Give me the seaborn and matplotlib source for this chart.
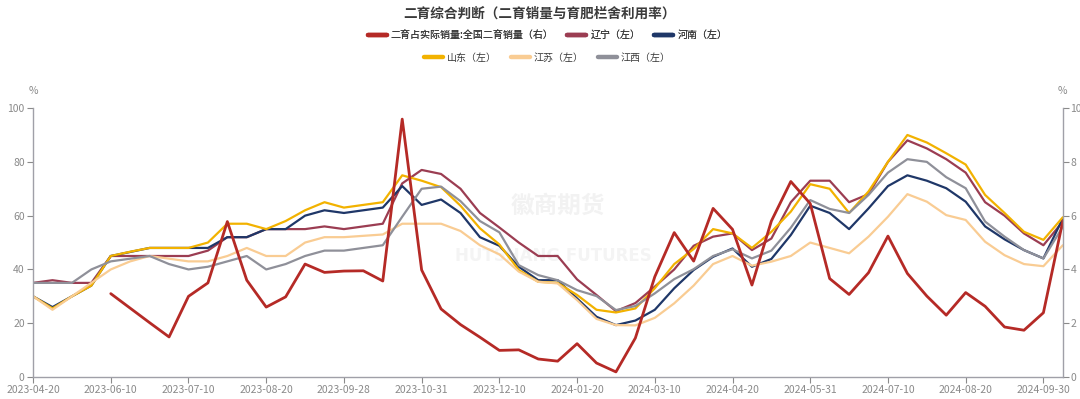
import numpy as np
import pandas as pd
import seaborn as sns
import matplotlib.pyplot as plt
from matplotlib.lines import Line2D

# dates (category axis, a label every 4th point)
dates = ['2023-04-20', '2023-04-30', '2023-05-10', '2023-05-31', '2023-06-10', '2023-06-15',
         '2023-06-20', '2023-06-30', '2023-07-10', '2023-07-20', '2023-07-31', '2023-08-10',
         '2023-08-20', '2023-08-31', '2023-09-10', '2023-09-20', '2023-09-28', '2023-10-10',
         '2023-10-15', '2023-10-20', '2023-10-31', '2023-11-10', '2023-11-20', '2023-11-30',
         '2023-12-10', '2023-12-20', '2023-12-31', '2024-01-10', '2024-01-20', '2024-01-31',
         '2024-02-10', '2024-02-29', '2024-03-10', '2024-03-20', '2024-03-31', '2024-04-10',
         '2024-04-20', '2024-04-30', '2024-05-10', '2024-05-20', '2024-05-31', '2024-06-10',
         '2024-06-20', '2024-06-30', '2024-07-10', '2024-07-20', '2024-07-31', '2024-08-10',
         '2024-08-20', '2024-08-31', '2024-09-10', '2024-09-20', '2024-09-30', '2024-10-10']

# right axis: share of secondary fattening in actual sales (%)
share = [np.nan, np.nan, np.nan, np.nan, 3.1, 2.56, 2.02, 1.49, 3.0, 3.5,
         5.78, 3.6, 2.6, 2.98, 4.2, 3.89, 3.94, 3.95, 3.57, 9.59,
         3.98, 2.53, 1.95, 1.48, 0.99, 1.01, 0.67, 0.59, 1.24, 0.52,
         0.19, 1.45, 3.73, 5.37, 4.31, 6.27, 5.49, 3.42, 5.8, 7.27,
         6.45, 3.66, 3.07, 3.88, 5.24, 3.85, 3.01, 2.3, 3.14, 2.63,
         1.86, 1.74, 2.39, 5.8]

# left axis: pen utilisation by province (%)
liaoning = [35, 36, 35, 35, 45, 45, 45, 45, 45, 47,
            52, 52, 55, 55, 55, 56, 55, 56, 57, 72,
            77, 75.5, 70, 61, 55.6, 50, 45, 45, 36.3, 30.5,
            24.5, 27.5, 33.6, 40, 48.8, 52.2, 53.4, 47.2, 51.5, 65,
            73, 73, 65, 68, 80, 88, 85, 81, 76, 65,
            60, 53.4, 49, 57.8]
henan = [30, 26, 30, 34, 45, 46.5, 48, 48, 48, 48,
         52, 52, 55, 55, 60, 62, 61, 62, 63, 71,
         64, 66, 61, 52, 48.8, 41, 36, 36, 29.2, 22.4,
         19.3, 21, 25, 33, 39.8, 44.7, 47.8, 41, 43.9, 52.8,
         63.7, 61, 55, 62.7, 71, 75, 73, 70.2, 65.2, 56,
         51.2, 47.2, 44.1, 59]
shandong = [30, 25.5, 30, 34, 45, 46.6, 48, 48, 48, 50,
            57, 57, 55, 58, 62, 65, 63, 64, 65, 75,
            73, 70.6, 63.7, 55.3, 49.3, 39.8, 35.4, 35, 30.5, 25,
            24, 25.5, 33, 42, 47.6, 55, 53.4, 48, 54, 61.5,
            71.7, 70, 61, 69, 80, 90, 87.2, 83.2, 79, 67.7,
            61, 54, 51, 59.4]
jiangsu = [30, 25, 30, 35, 40, 43, 45, 44, 43, 43,
           45, 48, 45, 45, 50, 52, 52, 52.5, 53, 57,
           57, 57, 54.3, 49, 45.6, 39.2, 35.4, 34.8, 28.6, 21.6,
           19.3, 19.2, 22, 27.4, 34, 42, 45, 41.4, 42.9, 45,
           50, 48, 46, 52.2, 59.6, 68, 65.2, 60.2, 58.4, 50.3,
           45.3, 42, 41.2, 49]
jiangxi = [35, 35, 35, 40, 43, 44, 45, 42, 40, 41,
           43, 45, 40, 42, 45, 47, 47, 48, 49, 59.6,
           70, 70.8, 65.4, 58, 53.8, 41.6, 37.9, 36, 32.3, 30.1,
           24.9, 26.4, 31.1, 36.4, 40.1, 45, 47.5, 44.1, 47, 55.5,
           65.8, 62.5, 61, 67.7, 76, 81, 80, 74.3, 70.2, 57.8,
           52.2, 47.2, 44.1, 55.9]

names = ['二育占实际销量:全国二育销量（右）', '辽宁（左）', '河南（左）',
         '山东（左）', '江苏（左）', '江西（左）']
colors = {names[0]: '#B52A26', names[1]: '#9B3D52', names[2]: '#1F3768',
          names[3]: '#F2B200', names[4]: '#F9CC93', names[5]: '#8F9099'}

idx = np.arange(len(dates))
left = pd.DataFrame({'idx': idx, names[1]: liaoning, names[2]: henan,
                     names[3]: shandong, names[4]: jiangsu, names[5]: jiangxi})
left_long = left.melt(id_vars='idx', var_name='series', value_name='value')
right = pd.DataFrame({'idx': idx, 'value': share})

sns.set_style('white')
plt.rcParams['font.family'] = ['Noto Sans CJK SC', 'DejaVu Sans']

fig = plt.figure(figsize=(10.8, 3.99), dpi=100)
ax = fig.add_axes([0.0306, 0.0551, 0.9535, 0.674])

# watermark behind the lines
ax.text(0.51, 0.635, '徽商期货', transform=ax.transAxes, ha='center', va='center',
        fontsize=17, color='#F2F2F2', fontweight='bold', zorder=0)
ax.text(0.505, 0.45, 'HUTSHANG FUTURES', transform=ax.transAxes, ha='center', va='center',
        fontsize=12, color='#F4F4F4', fontweight='bold', family='DejaVu Sans', zorder=0)

sns.lineplot(data=left_long, x='idx', y='value', hue='series', hue_order=names[1:],
             palette=colors, linewidth=1.6, legend=False, ax=ax)
ax2 = ax.twinx()
sns.lineplot(data=right, x='idx', y='value', color=colors[names[0]], linewidth=2.0, ax=ax2)

ax.set_xlim(0, len(dates) - 1)
ax.set_ylim(0, 100)
ax2.set_ylim(0, 10)
ax.set_yticks(range(0, 101, 20))
ax2.set_yticks(range(0, 11, 2))
ax.set_xticks(idx[::4])
ax.set_xticklabels(dates[::4])
for a in (ax, ax2):
    a.set_xlabel('')
    a.set_ylabel('')
    for s in a.spines.values():
        s.set_visible(False)
    a.tick_params(colors='#8A8A8A', labelsize=7.5, length=4, width=0.8, pad=2)
ax2.tick_params(axis='y', pad=1.5)
ax.spines['left'].set_visible(True)
ax.spines['bottom'].set_visible(True)
ax2.spines['right'].set_visible(True)
for s in (ax.spines['left'], ax.spines['bottom'], ax2.spines['right']):
    s.set_color('#A0A0A8')
    s.set_linewidth(1.0)
ax.tick_params(axis='y', left=True)
ax.tick_params(axis='x', bottom=True)
ax2.tick_params(axis='y', right=True)
ax.grid(False)
ax2.grid(False)

ax.text(0, 1.045, '%', transform=ax.transAxes, ha='center', va='bottom',
        fontsize=7.5, color='#8A8A8A')
ax.text(1, 1.045, '%', transform=ax.transAxes, ha='center', va='bottom',
        fontsize=7.5, color='#8A8A8A')

fig.text(0.5, 0.965, '二育综合判断（二育销量与育肥栏舍利用率）', ha='center', va='center',
         fontsize=9.8, fontweight='bold', color='#3A3A3A')

handles = [Line2D([], [], color=colors[n], linewidth=3.2, solid_capstyle='round') for n in names]
leg1 = fig.legend(handles[:3], names[:3], loc='center', bbox_to_anchor=(0.507, 0.912),
                  ncol=3, frameon=False, fontsize=7.2, handlelength=1.9,
                  handletextpad=0.4, columnspacing=1.4, labelcolor='#3A3A3A')
leg2 = fig.legend(handles[3:], names[3:], loc='center', bbox_to_anchor=(0.507, 0.855),
                  ncol=3, frameon=False, fontsize=7.2, handlelength=1.9,
                  handletextpad=0.4, columnspacing=1.4, labelcolor='#3A3A3A')
fig.add_artist(leg1)

fig.savefig('out.png', dpi=100, facecolor='white')
